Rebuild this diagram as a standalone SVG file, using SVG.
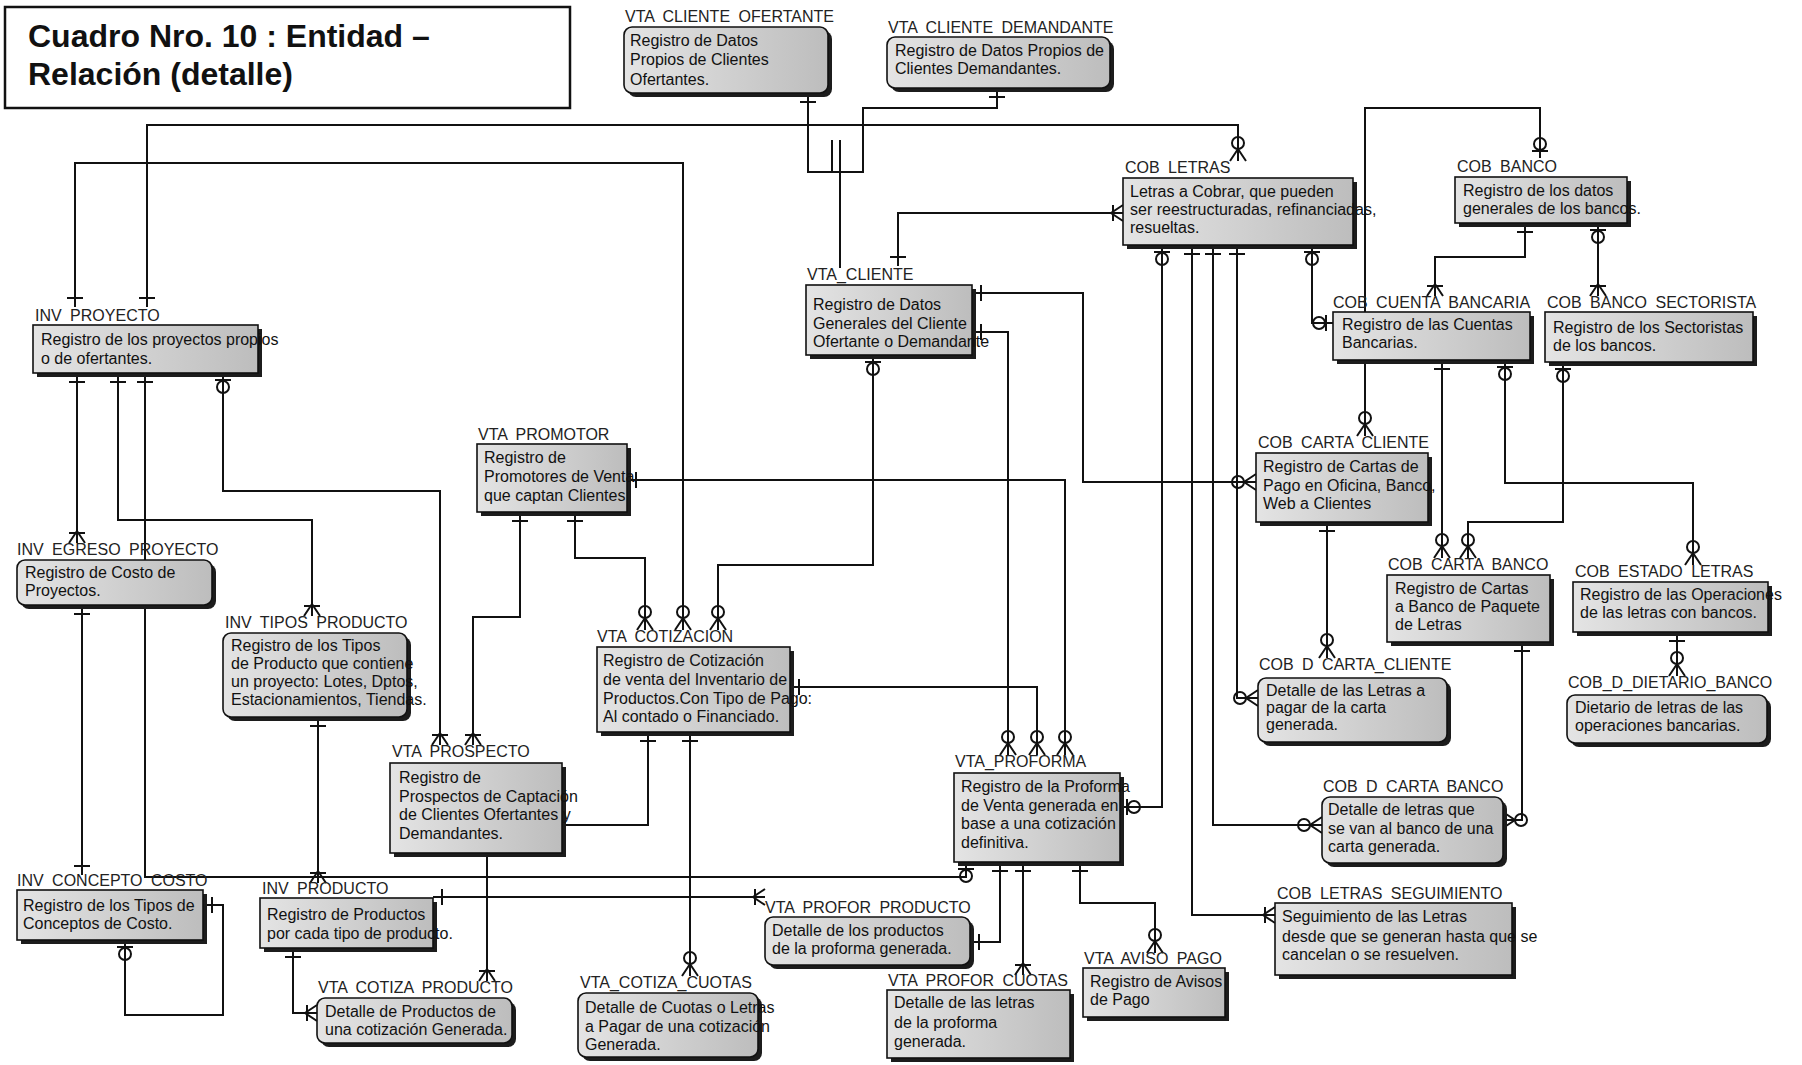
<svg xmlns="http://www.w3.org/2000/svg" xmlns:xlink="http://www.w3.org/1999/xlink" width="1802" height="1065" viewBox="0 0 1802 1065">
<style>
.sh{fill:#1c1c1c}
.bx{fill:url(#gf);stroke:#111;stroke-width:1.6}
.lbl{font-family:"Liberation Sans",Arial,sans-serif;font-size:16px;fill:#222;word-spacing:4px}
.t{font-family:"Liberation Sans",Arial,sans-serif;font-size:16px;fill:#111}
.ttl{font-family:"Liberation Sans",Arial,sans-serif;font-size:32px;font-weight:bold;fill:#111}
.ln{fill:none;stroke:#111;stroke-width:2}
</style>
<defs>
<linearGradient id="gf" x1="0" y1="0" x2="1" y2="0">
<stop offset="0" stop-color="#e4e4e4"/>
<stop offset="1" stop-color="#bdbdbd"/>
</linearGradient>
<g id="one" fill="none" stroke="#111" stroke-width="2"><path d="M-8,-9H8"/></g>
<g id="zo" fill="none" stroke="#111" stroke-width="2"><path d="M-8,-7H8"/><circle cx="0" cy="-14" r="6"/></g>
<g id="zm" fill="none" stroke="#111" stroke-width="2"><path d="M-8,0L0,-12L8,0M0,0V-12"/><circle cx="0" cy="-18" r="6"/></g>
<g id="om" fill="none" stroke="#111" stroke-width="2"><path d="M-8,0L0,-12L8,0M0,0V-12M-8,-10H8"/></g>
</defs>
<rect width="1802" height="1065" fill="#fff"/>
<g id="title">
<rect x="5" y="7" width="565" height="101" fill="#fff" stroke="#111" stroke-width="2.5"/>
<text class="ttl" x="28" y="47">Cuadro Nro. 10 : Entidad –</text>
<text class="ttl" x="28" y="85">Relación (detalle)</text>
</g>
<g id="connectors">
<path class="ln" d="M147,307V125H1238V161"/>
<use xlink:href="#one" transform="translate(147,307)"/><use xlink:href="#zm" transform="translate(1238,161)"/>
<path class="ln" d="M75,307V163H683V630"/>
<use xlink:href="#one" transform="translate(75,307)"/><use xlink:href="#zm" transform="translate(683,630)"/>
<path class="ln" d="M808,93V172H863V108H997V88"/>
<use xlink:href="#one" transform="translate(808,93) rotate(180)"/><use xlink:href="#one" transform="translate(997,88) rotate(180)"/>
<path class="ln" d="M840,140V268M832,140V172"/>
<path class="ln" d="M898,266V213H1123"/>
<use xlink:href="#one" transform="translate(898,266)"/><use xlink:href="#om" transform="translate(1123,213) rotate(-90)"/>
<path class="ln" d="M972,293H1083V482H1256"/>
<use xlink:href="#one" transform="translate(972,293) rotate(90)"/><use xlink:href="#zm" transform="translate(1256,482) rotate(-90)"/>
<path class="ln" d="M972,332H1008V755"/>
<use xlink:href="#one" transform="translate(972,332) rotate(90)"/><use xlink:href="#zm" transform="translate(1008,755)"/>
<path class="ln" d="M627,480H1065V755"/>
<use xlink:href="#one" transform="translate(627,480) rotate(90)"/><use xlink:href="#zm" transform="translate(1065,755)"/>
<path class="ln" d="M790,687H1037V755"/>
<use xlink:href="#one" transform="translate(790,687) rotate(90)"/><use xlink:href="#zm" transform="translate(1037,755)"/>
<path class="ln" d="M1162,245V807H1120"/>
<use xlink:href="#zo" transform="translate(1162,245) rotate(180)"/><use xlink:href="#zo" transform="translate(1120,807) rotate(90)"/>
<path class="ln" d="M1192,245V915H1275"/>
<use xlink:href="#one" transform="translate(1192,245) rotate(180)"/><use xlink:href="#om" transform="translate(1275,915) rotate(-90)"/>
<path class="ln" d="M1213,245V825H1322"/>
<use xlink:href="#one" transform="translate(1213,245) rotate(180)"/><use xlink:href="#zm" transform="translate(1322,825) rotate(-90)"/>
<path class="ln" d="M1237,245V698H1258"/>
<use xlink:href="#one" transform="translate(1237,245) rotate(180)"/><use xlink:href="#zm" transform="translate(1258,698) rotate(-90)"/>
<path class="ln" d="M1312,245V323H1333"/>
<use xlink:href="#zo" transform="translate(1312,245) rotate(180)"/><use xlink:href="#zo" transform="translate(1333,323) rotate(-90)"/>
<path class="ln" d="M1540,158V108H1365V436"/>
<use xlink:href="#zo" transform="translate(1540,158)"/><use xlink:href="#zm" transform="translate(1365,436)"/>
<path class="ln" d="M1525,223V257H1435V296"/>
<use xlink:href="#one" transform="translate(1525,223) rotate(180)"/><use xlink:href="#om" transform="translate(1435,296)"/>
<path class="ln" d="M1598,223V296"/>
<use xlink:href="#zo" transform="translate(1598,223) rotate(180)"/><use xlink:href="#om" transform="translate(1598,296)"/>
<path class="ln" d="M1442,360V558"/>
<use xlink:href="#one" transform="translate(1442,360) rotate(180)"/><use xlink:href="#zm" transform="translate(1442,558)"/>
<path class="ln" d="M1505,360V483H1693V565"/>
<use xlink:href="#zo" transform="translate(1505,360) rotate(180)"/><use xlink:href="#zm" transform="translate(1693,565)"/>
<path class="ln" d="M1563,362V522H1468V558"/>
<use xlink:href="#zo" transform="translate(1563,362) rotate(180)"/><use xlink:href="#zm" transform="translate(1468,558)"/>
<path class="ln" d="M1522,642V820H1503"/>
<use xlink:href="#one" transform="translate(1522,642) rotate(180)"/><use xlink:href="#zm" transform="translate(1503,820) rotate(90)"/>
<path class="ln" d="M1677,632V676"/>
<use xlink:href="#one" transform="translate(1677,632) rotate(180)"/><use xlink:href="#zm" transform="translate(1677,676)"/>
<path class="ln" d="M1327,522V658"/>
<use xlink:href="#one" transform="translate(1327,522) rotate(180)"/><use xlink:href="#zm" transform="translate(1327,658)"/>
<path class="ln" d="M77,373V543"/>
<use xlink:href="#one" transform="translate(77,373) rotate(180)"/><use xlink:href="#om" transform="translate(77,543)"/>
<path class="ln" d="M118,373V520H312V616"/>
<use xlink:href="#one" transform="translate(118,373) rotate(180)"/><use xlink:href="#om" transform="translate(312,616)"/>
<path class="ln" d="M145,373V877H966V862"/>
<use xlink:href="#one" transform="translate(145,373) rotate(180)"/><use xlink:href="#zo" transform="translate(966,862) rotate(180)"/>
<path class="ln" d="M223,373V491H440V745"/>
<use xlink:href="#zo" transform="translate(223,373) rotate(180)"/><use xlink:href="#om" transform="translate(440,745)"/>
<path class="ln" d="M82,605V875"/>
<use xlink:href="#one" transform="translate(82,605) rotate(180)"/><use xlink:href="#one" transform="translate(82,875)"/>
<path class="ln" d="M203,905H223V1015H125V940"/>
<use xlink:href="#one" transform="translate(203,905) rotate(90)"/><use xlink:href="#zo" transform="translate(125,940) rotate(180)"/>
<path class="ln" d="M318,717V883"/>
<use xlink:href="#one" transform="translate(318,717) rotate(180)"/><use xlink:href="#om" transform="translate(318,883)"/>
<path class="ln" d="M293,948V1013H317"/>
<use xlink:href="#one" transform="translate(293,948) rotate(180)"/><use xlink:href="#om" transform="translate(317,1013) rotate(-90)"/>
<path class="ln" d="M433,897H765"/>
<use xlink:href="#one" transform="translate(433,897) rotate(90)"/><use xlink:href="#om" transform="translate(765,897) rotate(-90)"/>
<path class="ln" d="M520,512V617H473V745"/>
<use xlink:href="#one" transform="translate(520,512) rotate(180)"/><use xlink:href="#om" transform="translate(473,745)"/>
<path class="ln" d="M575,512V558H645V630"/>
<use xlink:href="#one" transform="translate(575,512) rotate(180)"/><use xlink:href="#zm" transform="translate(645,630)"/>
<path class="ln" d="M873,355V565H718V630"/>
<use xlink:href="#zo" transform="translate(873,355) rotate(180)"/><use xlink:href="#zm" transform="translate(718,630)"/>
<path class="ln" d="M648,732V825H562"/>
<use xlink:href="#one" transform="translate(648,732) rotate(180)"/>
<path class="ln" d="M690,732V976"/>
<use xlink:href="#one" transform="translate(690,732) rotate(180)"/><use xlink:href="#zm" transform="translate(690,976)"/>
<path class="ln" d="M487,853V981"/>
<use xlink:href="#om" transform="translate(487,981)"/>
<path class="ln" d="M1000,862V942H970"/>
<use xlink:href="#one" transform="translate(1000,862) rotate(180)"/><use xlink:href="#one" transform="translate(970,942) rotate(90)"/>
<path class="ln" d="M1023,862V975"/>
<use xlink:href="#one" transform="translate(1023,862) rotate(180)"/><use xlink:href="#om" transform="translate(1023,975)"/>
<path class="ln" d="M1080,862V903H1155V953"/>
<use xlink:href="#one" transform="translate(1080,862) rotate(180)"/><use xlink:href="#zm" transform="translate(1155,953)"/>
</g>
<g id="vta-cliente-ofertante">
<rect class="sh" x="628" y="31" width="204" height="66" rx="8"/><rect class="bx" x="624" y="27" width="204" height="66" rx="8"/>
<text class="lbl" x="625" y="22">VTA CLIENTE OFERTANTE</text>
<text class="t" x="630" y="46">Registro de Datos</text><text class="t" x="630" y="65">Propios de Clientes</text><text class="t" x="630" y="85">Ofertantes.</text>
</g>
<g id="vta-cliente-demandante">
<rect class="sh" x="891" y="41" width="223" height="51" rx="8"/><rect class="bx" x="887" y="37" width="223" height="51" rx="8"/>
<text class="lbl" x="888" y="33">VTA CLIENTE DEMANDANTE</text>
<text class="t" x="895" y="56">Registro de Datos Propios de</text><text class="t" x="895" y="74">Clientes Demandantes.</text>
</g>
<g id="cob-letras">
<rect class="sh" x="1127" y="182" width="230" height="67"/><rect class="bx" x="1123" y="178" width="230" height="67"/>
<text class="lbl" x="1125" y="173">COB LETRAS</text>
<text class="t" x="1130" y="197">Letras a Cobrar, que pueden</text><text class="t" x="1130" y="215">ser reestructuradas, refinanciadas,</text><text class="t" x="1130" y="233">resueltas.</text>
</g>
<g id="cob-banco">
<rect class="sh" x="1459" y="181" width="172" height="46"/><rect class="bx" x="1455" y="177" width="172" height="46"/>
<text class="lbl" x="1457" y="172">COB BANCO</text>
<text class="t" x="1463" y="196">Registro de los datos</text><text class="t" x="1463" y="214">generales de los bancos.</text>
</g>
<g id="cob-cuenta-bancaria">
<rect class="sh" x="1337" y="316" width="197" height="48"/><rect class="bx" x="1333" y="312" width="197" height="48"/>
<text class="lbl" x="1333" y="308">COB CUENTA BANCARIA</text>
<text class="t" x="1342" y="330">Registro de las Cuentas</text><text class="t" x="1342" y="348">Bancarias.</text>
</g>
<g id="cob-banco-sectorista">
<rect class="sh" x="1549" y="316" width="208" height="50"/><rect class="bx" x="1545" y="312" width="208" height="50"/>
<text class="lbl" x="1547" y="308">COB BANCO SECTORISTA</text>
<text class="t" x="1553" y="333">Registro de los Sectoristas</text><text class="t" x="1553" y="351">de los bancos.</text>
</g>
<g id="vta-cliente">
<rect class="sh" x="810" y="289" width="166" height="70"/><rect class="bx" x="806" y="285" width="166" height="70"/>
<text class="lbl" x="807" y="280">VTA_CLIENTE</text>
<text class="t" x="813" y="310">Registro de Datos</text><text class="t" x="813" y="329">Generales del Cliente</text><text class="t" x="813" y="347">Ofertante o Demandante</text>
</g>
<g id="inv-proyecto">
<rect class="sh" x="37" y="329" width="225" height="48"/><rect class="bx" x="33" y="325" width="225" height="48"/>
<text class="lbl" x="35" y="321">INV PROYECTO</text>
<text class="t" x="41" y="345">Registro de los proyectos propios</text><text class="t" x="41" y="364">o de ofertantes.</text>
</g>
<g id="inv-egreso-proyecto">
<rect class="sh" x="21" y="564" width="195" height="45" rx="8"/><rect class="bx" x="17" y="560" width="195" height="45" rx="8"/>
<text class="lbl" x="17" y="555">INV EGRESO PROYECTO</text>
<text class="t" x="25" y="578">Registro de Costo de</text><text class="t" x="25" y="596">Proyectos.</text>
</g>
<g id="inv-tipos-producto">
<rect class="sh" x="227" y="637" width="184" height="84" rx="8"/><rect class="bx" x="223" y="633" width="184" height="84" rx="8"/>
<text class="lbl" x="225" y="628">INV TIPOS PRODUCTO</text>
<text class="t" x="231" y="651">Registro de los Tipos</text><text class="t" x="231" y="669">de Producto que contiene</text><text class="t" x="231" y="687">un proyecto: Lotes, Dptos,</text><text class="t" x="231" y="705">Estacionamientos, Tiendas.</text>
</g>
<g id="inv-concepto-costo">
<rect class="sh" x="21" y="894" width="186" height="50"/><rect class="bx" x="17" y="890" width="186" height="50"/>
<text class="lbl" x="17" y="886">INV CONCEPTO COSTO</text>
<text class="t" x="23" y="911">Registro de los Tipos de</text><text class="t" x="23" y="929">Conceptos de Costo.</text>
</g>
<g id="inv-producto">
<rect class="sh" x="264" y="902" width="173" height="50"/><rect class="bx" x="260" y="898" width="173" height="50"/>
<text class="lbl" x="262" y="894">INV PRODUCTO</text>
<text class="t" x="267" y="920">Registro de Productos</text><text class="t" x="267" y="939">por cada tipo de producto.</text>
</g>
<g id="vta-cotiza-producto">
<rect class="sh" x="321" y="1002" width="195" height="45" rx="8"/><rect class="bx" x="317" y="998" width="195" height="45" rx="8"/>
<text class="lbl" x="318" y="993">VTA COTIZA PRODUCTO</text>
<text class="t" x="325" y="1017">Detalle de Productos de</text><text class="t" x="325" y="1035">una cotización Generada.</text>
</g>
<g id="vta-prospecto">
<rect class="sh" x="394" y="767" width="172" height="90"/><rect class="bx" x="390" y="763" width="172" height="90"/>
<text class="lbl" x="392" y="757">VTA PROSPECTO</text>
<text class="t" x="399" y="783">Registro de</text><text class="t" x="399" y="802">Prospectos de Captación</text><text class="t" x="399" y="820">de Clientes Ofertantes y</text><text class="t" x="399" y="839">Demandantes.</text>
</g>
<g id="vta-promotor">
<rect class="sh" x="481" y="448" width="150" height="68"/><rect class="bx" x="477" y="444" width="150" height="68"/>
<text class="lbl" x="478" y="440">VTA PROMOTOR</text>
<text class="t" x="484" y="463">Registro de</text><text class="t" x="484" y="482">Promotores de Venta</text><text class="t" x="484" y="501">que captan Clientes</text>
</g>
<g id="vta-cotizacion">
<rect class="sh" x="601" y="651" width="193" height="85"/><rect class="bx" x="597" y="647" width="193" height="85"/>
<text class="lbl" x="597" y="642">VTA COTIZACION</text>
<text class="t" x="603" y="666">Registro de Cotización</text><text class="t" x="603" y="685">de venta del Inventario de</text><text class="t" x="603" y="704">Productos.Con Tipo de Pago:</text><text class="t" x="603" y="722">Al contado o Financiado.</text>
</g>
<g id="vta-proforma">
<rect class="sh" x="958" y="777" width="166" height="89"/><rect class="bx" x="954" y="773" width="166" height="89"/>
<text class="lbl" x="955" y="767">VTA_PROFORMA</text>
<text class="t" x="961" y="792">Registro de la Proforma</text><text class="t" x="961" y="811">de Venta generada en</text><text class="t" x="961" y="829">base a una cotización</text><text class="t" x="961" y="848">definitiva.</text>
</g>
<g id="vta-profor-producto">
<rect class="sh" x="769" y="921" width="205" height="48" rx="8"/><rect class="bx" x="765" y="917" width="205" height="48" rx="8"/>
<text class="lbl" x="765" y="913">VTA PROFOR PRODUCTO</text>
<text class="t" x="772" y="936">Detalle de los productos</text><text class="t" x="772" y="954">de la proforma generada.</text>
</g>
<g id="vta-profor-cuotas">
<rect class="sh" x="891" y="994" width="183" height="68"/><rect class="bx" x="887" y="990" width="183" height="68"/>
<text class="lbl" x="888" y="986">VTA PROFOR CUOTAS</text>
<text class="t" x="894" y="1008">Detalle de las letras</text><text class="t" x="894" y="1028">de la proforma</text><text class="t" x="894" y="1047">generada.</text>
</g>
<g id="vta-aviso-pago">
<rect class="sh" x="1087" y="972" width="142" height="49"/><rect class="bx" x="1083" y="968" width="142" height="49"/>
<text class="lbl" x="1084" y="964">VTA AVISO PAGO</text>
<text class="t" x="1090" y="987">Registro de Avisos</text><text class="t" x="1090" y="1005">de Pago</text>
</g>
<g id="vta-cotiza-cuotas">
<rect class="sh" x="582" y="997" width="180" height="64" rx="8"/><rect class="bx" x="578" y="993" width="180" height="64" rx="8"/>
<text class="lbl" x="580" y="988">VTA_COTIZA_CUOTAS</text>
<text class="t" x="585" y="1013">Detalle de Cuotas o Letras</text><text class="t" x="585" y="1032">a Pagar de una cotización</text><text class="t" x="585" y="1050">Generada.</text>
</g>
<g id="cob-carta-cliente">
<rect class="sh" x="1260" y="457" width="172" height="69"/><rect class="bx" x="1256" y="453" width="172" height="69"/>
<text class="lbl" x="1258" y="448">COB CARTA CLIENTE</text>
<text class="t" x="1263" y="472">Registro de Cartas de</text><text class="t" x="1263" y="491">Pago en Oficina, Banco,</text><text class="t" x="1263" y="509">Web a Clientes</text>
</g>
<g id="cob-d-carta-cliente">
<rect class="sh" x="1262" y="682" width="189" height="64" rx="8"/><rect class="bx" x="1258" y="678" width="189" height="64" rx="8"/>
<text class="lbl" x="1259" y="670">COB D CARTA_CLIENTE</text>
<text class="t" x="1266" y="696">Detalle de las Letras a</text><text class="t" x="1266" y="713">pagar de la carta</text><text class="t" x="1266" y="730">generada.</text>
</g>
<g id="cob-carta-banco">
<rect class="sh" x="1391" y="579" width="163" height="67"/><rect class="bx" x="1387" y="575" width="163" height="67"/>
<text class="lbl" x="1388" y="570">COB CARTA BANCO</text>
<text class="t" x="1395" y="594">Registro de Cartas</text><text class="t" x="1395" y="612">a Banco de Paquete</text><text class="t" x="1395" y="630">de Letras</text>
</g>
<g id="cob-estado-letras">
<rect class="sh" x="1577" y="586" width="195" height="50"/><rect class="bx" x="1573" y="582" width="195" height="50"/>
<text class="lbl" x="1575" y="577">COB ESTADO LETRAS</text>
<text class="t" x="1580" y="600">Registro de las Operaciones</text><text class="t" x="1580" y="618">de las letras con bancos.</text>
</g>
<g id="cob-d-dietario-banco">
<rect class="sh" x="1571" y="699" width="200" height="48" rx="8"/><rect class="bx" x="1567" y="695" width="200" height="48" rx="8"/>
<text class="lbl" x="1568" y="688">COB_D_DIETARIO_BANCO</text>
<text class="t" x="1575" y="713">Dietario de letras de las</text><text class="t" x="1575" y="731">operaciones bancarias.</text>
</g>
<g id="cob-d-carta-banco">
<rect class="sh" x="1326" y="801" width="181" height="66" rx="8"/><rect class="bx" x="1322" y="797" width="181" height="66" rx="8"/>
<text class="lbl" x="1323" y="792">COB D CARTA BANCO</text>
<text class="t" x="1328" y="815">Detalle de letras que</text><text class="t" x="1328" y="834">se van al banco de una</text><text class="t" x="1328" y="852">carta generada.</text>
</g>
<g id="cob-letras-seguimiento">
<rect class="sh" x="1279" y="907" width="237" height="72"/><rect class="bx" x="1275" y="903" width="237" height="72"/>
<text class="lbl" x="1277" y="899">COB LETRAS SEGUIMIENTO</text>
<text class="t" x="1282" y="922">Seguimiento de las Letras</text><text class="t" x="1282" y="942">desde que se generan hasta que se</text><text class="t" x="1282" y="960">cancelan o se resuelven.</text>
</g>
</svg>
